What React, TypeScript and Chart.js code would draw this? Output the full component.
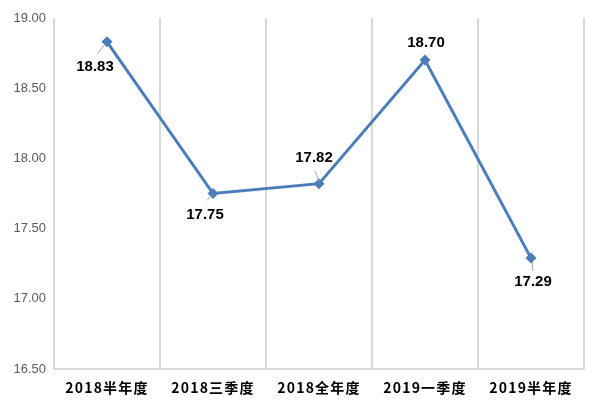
import React, { useEffect, useRef } from "react";
import { Chart, registerables } from "chart.js";

Chart.register(...registerables);

const categories = ["2018半年度", "2018三季度", "2018全年度", "2019一季度", "2019半年度"];
const values = [18.83, 17.75, 17.82, 18.7, 17.29];
const yMin = 16.5;
const yMax = 19.0;
const yStep = 0.5;

// label placement offsets relative to each point (style only)
const labelOffsets: [number, number][] = [[-12, 25], [-8, 21], [-5, -26], [1, -17], [2, 24]];
const leaderLines: ([number, number, number, number] | null)[] = [
  [-10, 12, -3, 4],
  [-6, 7, -1, 1],
  [-4, -13, 0, -2],
  null,
  [1, 4, 2, 13],
];

const labelPlugin = {
  id: "pointLabels",
  afterDatasetsDraw(chart: any) {
    const ctx = chart.ctx;
    const meta = chart.getDatasetMeta(0);
    ctx.save();
    meta.data.forEach((pt: any, i: number) => {
      const l = leaderLines[i];
      if (l) {
        ctx.strokeStyle = "#a6a6a6";
        ctx.lineWidth = 1;
        ctx.beginPath();
        ctx.moveTo(pt.x + l[0], pt.y + l[1]);
        ctx.lineTo(pt.x + l[2], pt.y + l[3]);
        ctx.stroke();
      }
      const [dx, dy] = labelOffsets[i];
      ctx.fillStyle = "#000000";
      ctx.font = "bold 15px 'Liberation Sans', Arial, sans-serif";
      ctx.textAlign = "center";
      ctx.textBaseline = "middle";
      ctx.fillText(values[i].toFixed(2), pt.x + dx, pt.y + dy);
    });
    ctx.restore();
  },
};

export default function App() {
  const ref = useRef<HTMLCanvasElement | null>(null);
  useEffect(() => {
    if (!ref.current) return;
    const chart = new Chart(ref.current, {
      type: "line",
      data: {
        labels: categories,
        datasets: [
          {
            data: values,
            borderColor: "#4a7ebb",
            backgroundColor: "#4a7ebb",
            borderWidth: 3,
            pointStyle: "rectRot",
            pointRadius: 5.5,
            pointBorderWidth: 0,
            tension: 0,
          },
        ],
      },
      options: {
        animation: false,
        responsive: false,
        maintainAspectRatio: false,
        layout: { padding: { top: 18, right: 16, left: 0, bottom: 0 } },
        plugins: { legend: { display: false }, tooltip: { enabled: false } },
        scales: {
          x: {
            offset: true,
            grid: { offset: true, color: "#d9d9d9", lineWidth: 2, drawTicks: false },
            border: { color: "#d9d9d9", width: 2 },
            ticks: {
              color: "#000000",
              padding: 10,
              maxRotation: 0,
              font: { family: "'Noto Sans CJK SC', sans-serif", size: 14, weight: "bold" },
            },
            afterFit: (s: any) => {
              s.height = 37;
            },
          },
          y: {
            min: yMin,
            max: yMax,
            grid: { display: false, drawTicks: false },
            border: { display: false },
            ticks: {
              stepSize: yStep,
              color: "#595959",
              padding: 8,
              font: { family: "'Liberation Sans', Arial, sans-serif", size: 13 },
              callback: (v: any) => Number(v).toFixed(2),
            },
            afterFit: (s: any) => {
              s.width = 54;
            },
          },
        },
      },
      plugins: [labelPlugin],
    });
    const xs: any = chart.scales.x;
    const orig = xs.drawLabels.bind(xs);
    xs.drawLabels = (area: any) => {
      const c: any = chart.ctx;
      c.save();
      c.letterSpacing = "1.2px";
      orig(area);
      c.restore();
      c.letterSpacing = "0px";
    };
    chart.draw();
    return () => chart.destroy();
  }, []);
  return (
    <div style={{ position: "absolute", left: 0, top: 0, width: 600, height: 406, background: "#fff" }}>
      <canvas ref={ref} width={600} height={406} />
    </div>
  );
}
